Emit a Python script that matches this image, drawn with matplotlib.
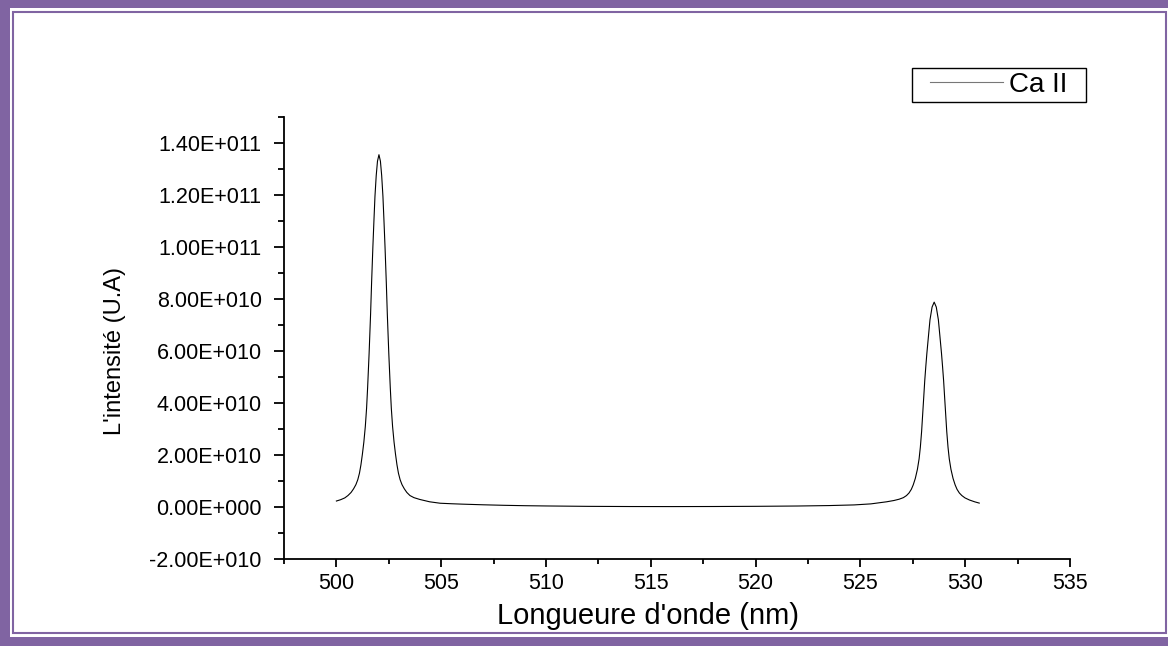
import math
import matplotlib
matplotlib.use("Agg")
import matplotlib.pyplot as plt
from matplotlib.ticker import MultipleLocator, FuncFormatter
from matplotlib.patches import Rectangle

plt.rcParams['font.family'] = ['Liberation Sans', 'DejaVu Sans']

# Ca II emission spectrum (wavelength in nm, intensity in arbitrary units)
wavelength = [
    500.00, 500.20, 500.40, 500.55, 500.70, 500.82, 500.93, 501.02, 501.10,
    501.17, 501.24, 501.31, 501.38, 501.44, 501.49, 501.56, 501.63, 501.68,
    501.74, 501.79, 501.84, 501.90, 501.96, 502.03,
    502.10, 502.16, 502.22, 502.27, 502.32, 502.38, 502.43, 502.50, 502.57,
    502.62, 502.68, 502.75, 502.82, 502.89, 502.96, 503.04, 503.13, 503.24,
    503.36, 503.51, 503.70, 503.98, 504.45, 504.95, 505.50, 506.00, 507.00,
    508.00, 509.00, 510.00, 512.00, 514.00, 516.00, 518.00, 520.00, 522.00,
    523.50, 524.70, 525.50, 526.25, 526.60, 526.85, 527.05, 527.20, 527.32,
    527.43, 527.52, 527.62, 527.72, 527.80, 527.86, 527.92, 527.97, 528.02,
    528.07, 528.12, 528.17, 528.25, 528.32, 528.42, 528.52,
    528.62, 528.72, 528.79, 528.87, 528.92, 528.97, 529.02, 529.07, 529.12,
    529.18, 529.24, 529.32, 529.42, 529.52, 529.61, 529.72, 529.84, 529.99,
    530.20, 530.45, 530.67,
]
intensity = [
    2.3e9, 2.8e9, 3.5e9, 4.4e9, 5.6e9, 7.0e9, 8.6e9, 1.05e10, 1.3e10,
    1.62e10, 2.03e10, 2.5e10, 3.1e10, 3.8e10, 4.6e10, 5.9e10, 7.4e10, 8.65e10,
    1.0e11, 1.10e11, 1.195e11, 1.275e11, 1.33e11, 1.355e11,
    1.33e11, 1.275e11, 1.195e11, 1.10e11, 1.0e11, 8.65e10, 7.4e10, 5.9e10, 4.6e10,
    3.8e10, 3.1e10, 2.5e10, 2.03e10, 1.62e10, 1.3e10, 1.05e10, 8.6e9, 7.0e9,
    5.6e9, 4.4e9, 3.6e9, 2.9e9, 2.0e9, 1.45e9, 1.25e9, 1.1e9, 8.5e8,
    6.5e8, 5.0e8, 4.0e8, 2.5e8, 1.8e8, 1.6e8, 1.9e8, 2.6e8, 3.8e8,
    5.5e8, 8.0e8, 1.2e9, 2.0e9, 2.5e9, 3.0e9, 3.6e9, 4.4e9, 5.4e9,
    6.8e9, 8.5e9, 1.1e10, 1.45e10, 1.85e10, 2.3e10, 2.9e10, 3.55e10, 4.2e10,
    4.86e10, 5.4e10, 5.9e10, 6.6e10, 7.2e10, 7.69e10, 7.88e10,
    7.69e10, 7.2e10, 6.6e10, 5.9e10, 5.4e10, 4.86e10, 4.2e10, 3.55e10, 2.9e10,
    2.3e10, 1.85e10, 1.45e10, 1.1e10, 8.5e9, 6.8e9, 5.4e9, 4.4e9, 3.5e9,
    2.7e9, 2.0e9, 1.5e9,
]
series_label = "Ca II"
x_label = "Longueure d'onde (nm)"
y_label = "L'intensité (U.A)"

W, H = 1168, 646
fig = plt.figure(figsize=(W / 100, H / 100), dpi=100)
fig.patch.set_facecolor("white")

purple = "#8064A2"


def px_rect(x0, y0, x1, y1, **kw):
    """Rectangle given in pixel coordinates measured from the top-left corner."""
    fig.patches.append(Rectangle((x0 / W, 1 - y1 / H), (x1 - x0) / W, (y1 - y0) / H,
                                 transform=fig.transFigure, figure=fig, **kw))


# Page border: thick band plus a thin inner rule
px_rect(0, 0, 10, H, facecolor=purple, edgecolor="none")
px_rect(0, 0, W, 8, facecolor=purple, edgecolor="none")
px_rect(0, 637, W, H, facecolor=purple, edgecolor="none")
px_rect(12.5, 11.5, 1165.5, 633, facecolor="none", edgecolor=purple, linewidth=1.5)

ax = fig.add_axes([284 / W, 1 - 559 / H, (1070 - 284) / W, (559 - 117) / H])
ax.plot(wavelength, intensity, color="black", linewidth=0.8, label=series_label)

ax.set_xlim(497.5, 535)
ax.set_ylim(-2e10, 1.5e11)
ax.xaxis.set_major_locator(MultipleLocator(5))
ax.xaxis.set_minor_locator(MultipleLocator(2.5))
ax.yaxis.set_major_locator(MultipleLocator(2e10))
ax.yaxis.set_minor_locator(MultipleLocator(1e10))


def sci_fmt(v, pos):
    if abs(v) < 1e-3:
        return "0.00E+000"
    e = int(math.floor(math.log10(abs(v)) + 1e-9))
    m = v / 10 ** e
    return f"{m:.2f}E{'+' if e >= 0 else '-'}{abs(e):03d}"


ax.yaxis.set_major_formatter(FuncFormatter(sci_fmt))

for side in ("top", "right"):
    ax.spines[side].set_visible(False)
for side in ("left", "bottom"):
    ax.spines[side].set_linewidth(1.3)

ax.tick_params(which="both", direction="out", width=1.3, labelsize=15.5)
ax.tick_params(axis="x", which="major", length=6, pad=4)
ax.tick_params(axis="x", which="minor", length=3.5)
ax.tick_params(axis="y", which="major", length=7.5, pad=8.5)
ax.tick_params(axis="y", which="minor", length=4.5)

fig.text(648 / W, 1 - 624 / H, x_label, ha="center", va="baseline", fontsize=21)
fig.text(115 / W, 1 - 351 / H, y_label, ha="center", va="center", rotation=90, fontsize=17)

# Legend entry with its own box
leg = ax.legend(loc="center left", bbox_to_anchor=(930 / W, 1 - 85 / H),
                bbox_transform=fig.transFigure, borderaxespad=0, borderpad=0,
                frameon=False, fontsize=20, handlelength=2.63, handletextpad=0.22)
leg.get_lines()[0].set_color("#777777")
px_rect(912, 68, 1086, 102, facecolor="none", edgecolor="black", linewidth=1.0)

fig.savefig("out.png", dpi=100)
